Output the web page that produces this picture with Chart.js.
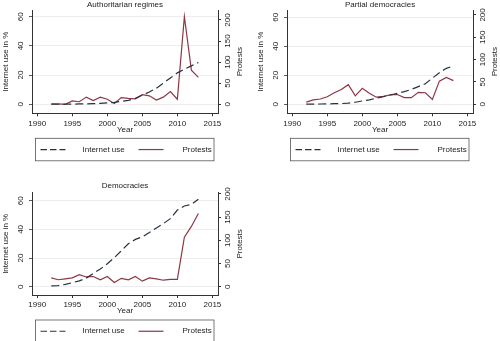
<!DOCTYPE html>
<html>
<head>
<meta charset="utf-8">
<script src="https://cdn.jsdelivr.net/npm/chart.js@4.4.1/dist/chart.umd.min.js"></script>
<style>
  html, body { margin: 0; padding: 0; background: #fff; overflow: hidden; }
  body { width: 500px; height: 341px; position: relative; }
  canvas { position: absolute; }
</style>
</head>
<body>
<canvas id="auth" width="250" height="170" style="left:0;top:0"></canvas>
<canvas id="partial" width="250" height="170" style="left:255px;top:0"></canvas>
<canvas id="dem" width="250" height="171" style="left:0;top:170px"></canvas>
<script>
const years = [1992, 1993, 1994, 1995, 1996, 1997, 1998, 1999, 2000, 2001, 2002,
               2003, 2004, 2005, 2006, 2007, 2008, 2009, 2010, 2011, 2012, 2013];
const yearTicks = [1990, 1995, 2000, 2005, 2010, 2015];
const internetTicks = [0, 20, 40, 60];
const protestTicks = [0, 50, 100, 150, 200];

// internet use in % (left axis) and protest counts (right axis) per regime type
const authInternet = [0, 0, 0.1, 0.1, 0.2, 0.3, 0.4, 0.6, 0.9, 1.3, 2.0, 2.7, 4.0, 6.2, 8.4, 11, 14.5, 18, 21.5, 24, 26.3, 28.6];
const authProtests = [1, 1, 0, 8, 6, 17, 9, 17, 12, 2, 16, 14, 13, 23, 20, 10, 17, 30, 12, 208, 81, 64];
const partInternet = [0.1, 0.1, 0.2, 0.3, 0.4, 0.5, 0.8, 1.4, 2.3, 3.1, 4.2, 5.2, 6.4, 7.6, 8.7, 10.3, 12.2, 14.2, 18, 21.8, 24.8, 26.4];
const partProtests = [5, 10, 12, 17, 26, 33, 44, 19, 36, 25, 16, 18, 21, 22, 15, 15, 27, 26, 11, 52, 60, 53];
const demInternet = [0.5, 0.8, 1.6, 2.8, 4.1, 6, 9.3, 12.3, 16, 20.3, 25, 30, 33, 34.8, 37.8, 41, 44, 47.5, 53.5, 56.3, 57.4, 61];
const demProtests = [19, 15, 17, 19, 26, 21, 22, 15, 22, 9, 18, 15, 22, 12, 19, 17, 14, 16, 16, 107, 130, 158];

const FONT = { family: "'Liberation Sans', Arial, sans-serif", size: 8, weight: 'normal' };
const INK = '#222';
const AXIS = '#333';
const INTERNET_COLOR = '#28323f';
const PROTEST_COLOR = '#8e3645';

// boxed key under the x axis, plus the right axis title (reads bottom to top)
const keyBox = {
  id: 'keyBox',
  afterDraw(chart) {
    const { ctx, chartArea } = chart;
    const x0 = chartArea.left + 3.5, x1 = chartArea.right - 4;
    const y0 = chartArea.bottom + 25, y1 = chartArea.bottom + 47.5;
    const mid = (y0 + y1) / 2;
    ctx.save();
    ctx.strokeStyle = '#555';
    ctx.lineWidth = 0.8;
    ctx.strokeRect(x0, y0, x1 - x0, y1 - y0);
    ctx.font = "8px 'Liberation Sans', Arial, sans-serif";
    ctx.textBaseline = 'middle';
    ctx.textAlign = 'left';
    const slots = [[5, 47], [103, 147]];
    chart.data.datasets.forEach((ds, i) => {
      const [lx, tx] = slots[i];
      ctx.beginPath();
      ctx.setLineDash(ds.borderDash ? [6.5, 3] : []);
      ctx.strokeStyle = ds.borderColor;
      ctx.lineWidth = ds.borderWidth;
      ctx.moveTo(x0 + lx, mid);
      ctx.lineTo(x0 + lx + 25, mid);
      ctx.stroke();
      ctx.setLineDash([]);
      ctx.fillStyle = INK;
      ctx.fillText(ds.label, x0 + tx, mid);
    });
    const y2 = chart.scales.y2;
    ctx.translate(y2.left + 22, (chartArea.top + chartArea.bottom) / 2);
    ctx.rotate(-Math.PI / 2);
    ctx.textAlign = 'center';
    ctx.fillText('Protests', 0, 0);
    ctx.restore();
  }
};

function panel(id, title, internet, protests, opt) {
  return new Chart(document.getElementById(id), {
    type: 'line',
    data: {
      datasets: [
        {
          label: 'Internet use',
          data: years.map((x, i) => ({ x, y: internet[i] })),
          yAxisID: 'y',
          borderColor: INTERNET_COLOR,
          borderDash: [8, 4],
          borderWidth: 1.2,
          pointRadius: 0,
          fill: false
        },
        {
          label: 'Protests',
          data: years.map((x, i) => ({ x, y: protests[i] })),
          yAxisID: 'y2',
          borderColor: PROTEST_COLOR,
          borderWidth: 1.2,
          pointRadius: 0,
          fill: false
        }
      ]
    },
    options: {
      responsive: false,
      animation: false,
      devicePixelRatio: 1,
      layout: { padding: { top: 0, left: 0, right: 0, bottom: opt.bottomPad } },
      plugins: {
        legend: { display: false },
        tooltip: { enabled: false },
        title: { display: true, text: title, color: INK, font: FONT, padding: opt.titlePad }
      },
      scales: {
        x: {
          type: 'linear',
          min: 1989.25,
          max: 2015.8,
          afterBuildTicks: s => { s.ticks = yearTicks.map(v => ({ value: v })); },
          afterFit: s => { s.height = 22; },
          ticks: { color: INK, font: FONT, padding: 2.2, maxRotation: 0, callback: v => String(v) },
          grid: { drawOnChartArea: false, tickLength: 3, tickColor: AXIS },
          border: { color: AXIS },
          title: { display: true, text: 'Year', color: INK, font: FONT, padding: { top: 0, bottom: 1.2 } }
        },
        y: {
          position: 'left',
          min: opt.y[0],
          max: opt.y[1],
          afterBuildTicks: s => { s.ticks = internetTicks.map(v => ({ value: v })); },
          afterFit: s => { s.width = 32; },
          ticks: { color: INK, font: FONT, minRotation: 90, maxRotation: 90, crossAlign: 'center', padding: 3.5 },
          grid: { color: '#e8e8e8', lineWidth: 0.8, tickLength: 3, tickColor: AXIS },
          border: { color: AXIS },
          title: { display: true, text: 'Internet use in %', color: INK, font: FONT, padding: { top: 1.2, bottom: 0 } }
        },
        y2: {
          position: 'right',
          min: opt.y2[0],
          max: opt.y2[1],
          afterBuildTicks: s => { s.ticks = protestTicks.map(v => ({ value: v })); },
          afterFit: s => { s.width = 32; },
          ticks: { color: INK, font: FONT, minRotation: 90, maxRotation: 90, crossAlign: 'center', padding: 0 },
          grid: { drawOnChartArea: false, tickLength: 3, tickColor: AXIS },
          border: { color: AXIS }
        }
      }
    },
    plugins: [keyBox]
  });
}

panel('auth', 'Authoritarian regimes', authInternet, authProtests, {
  titlePad: { top: 0, bottom: 0.4 }, bottomPad: 34.7, y: [-6.2, 64.6], y2: [-21.4, 223.7]
});
panel('partial', 'Partial democracies', partInternet, partProtests, {
  titlePad: { top: 0, bottom: 0.4 }, bottomPad: 34.7, y: [-6.2, 65], y2: [-20, 211]
});
panel('dem', 'Democracies', demInternet, demProtests, {
  titlePad: { top: 11.2, bottom: 1.9 }, bottomPad: 24, y: [-5.8, 65.6], y2: [-17.9, 202.8]
});
</script>
</body>
</html>
